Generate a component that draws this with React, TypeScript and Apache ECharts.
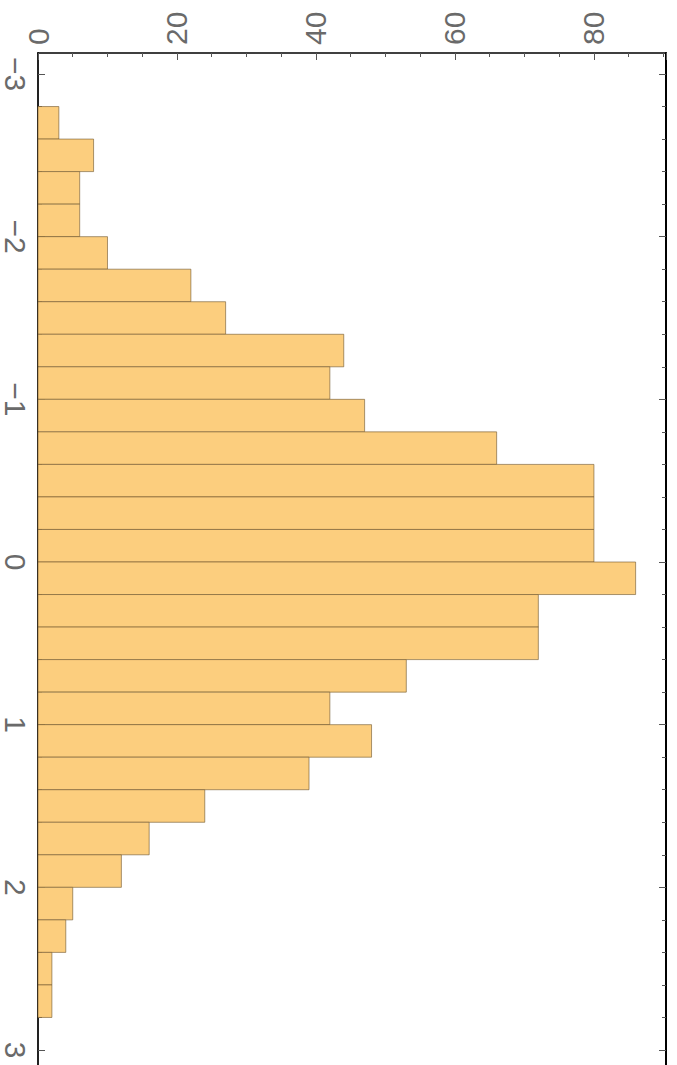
import React, { useEffect, useRef } from "react";
import * as echarts from "echarts";

// Histogram bins (lower edge, upper edge) and counts per bin
const binLower = [
  -2.8, -2.6, -2.4, -2.2, -2.0, -1.8, -1.6, -1.4, -1.2, -1.0, -0.8, -0.6, -0.4, -0.2,
  0.0, 0.2, 0.4, 0.6, 0.8, 1.0, 1.2, 1.4, 1.6, 1.8, 2.0, 2.2, 2.4, 2.6,
];
const binUpper = [
  -2.6, -2.4, -2.2, -2.0, -1.8, -1.6, -1.4, -1.2, -1.0, -0.8, -0.6, -0.4, -0.2, 0.0,
  0.2, 0.4, 0.6, 0.8, 1.0, 1.2, 1.4, 1.6, 1.8, 2.0, 2.2, 2.4, 2.6, 2.8,
];
const counts = [
  3, 8, 6, 6, 10, 22, 27, 44, 42, 47, 66, 80, 80, 80,
  86, 72, 72, 53, 42, 48, 39, 24, 16, 12, 5, 4, 2, 2,
];

// Axis ticks
const countTicks = [0, 20, 40, 60, 80];
const valueTicks = [-3, -2, -1, 0, 1, 2, 3];

const COUNT_MAX = 90.37;
const BAR_FILL = "#FCCE7E";
const BAR_EDGE = "rgba(110,85,45,0.6)";
const LABEL_COLOR = "#6a6a6a";
const TICK_COLOR = "#555";
const FONT = "'Liberation Sans', Arial, sans-serif";

const minus = (v: number) => String(v).replace("-", "\u2212");

export default function App() {
  const ref = useRef<HTMLDivElement>(null);

  useEffect(() => {
    if (!ref.current) return;
    const chart = echarts.init(ref.current, undefined, { renderer: "svg" });

    const data = counts.map((c, i) => [binLower[i], binUpper[i], c]);

    chart.setOption({
      animation: false,
      backgroundColor: "#ffffff",
      grid: [
        // frame grid
        { left: 38, top: 53, width: 628, height: 1018 },
        // data grid spanning -3 .. 3
        { left: 38, top: 74, width: 628, height: 976 },
      ],
      xAxis: [
        {
          gridIndex: 0,
          type: "value",
          position: "top",
          min: 0,
          max: COUNT_MAX,
          interval: 20,
          axisLine: { show: true, onZero: false, lineStyle: { color: "#000", width: 1.5 } },
          axisTick: { show: true, inside: true, length: 7, lineStyle: { color: TICK_COLOR, width: 1 } },
          minorTick: { show: true, splitNumber: 4, length: 4, lineStyle: { color: TICK_COLOR, width: 1 } },
          splitLine: { show: false },
          axisLabel: {
            show: true,
            rotate: -90,
            margin: 8,
            color: LABEL_COLOR,
            fontSize: 30,
            lineHeight: 30,
            fontFamily: FONT,
            showMaxLabel: false,
            formatter: (v: number) => (countTicks.includes(v) ? String(v) : ""),
          },
        },
        {
          gridIndex: 1,
          type: "value",
          min: 0,
          max: COUNT_MAX,
          show: false,
        },
      ],
      yAxis: [
        {
          gridIndex: 0,
          type: "value",
          position: "left",
          min: 0,
          max: 1,
          axisLine: { show: true, onZero: false, lineStyle: { color: "#222", width: 2 } },
          axisTick: { show: false },
          axisLabel: { show: false },
          splitLine: { show: false },
        },
        {
          gridIndex: 0,
          type: "value",
          position: "right",
          min: 0,
          max: 1,
          axisLine: { show: true, onZero: false, lineStyle: { color: "#000", width: 2 } },
          axisTick: { show: false },
          axisLabel: { show: false },
          splitLine: { show: false },
        },
        {
          gridIndex: 1,
          type: "value",
          position: "left",
          inverse: true,
          min: -3,
          max: 3,
          interval: 1,
          axisLine: { show: false, onZero: false },
          axisTick: { show: true, inside: true, length: 7, lineStyle: { color: TICK_COLOR, width: 1 } },
          minorTick: { show: true, splitNumber: 5, length: 4, lineStyle: { color: TICK_COLOR, width: 1 } },
          splitLine: { show: false },
          axisLabel: {
            show: true,
            rotate: -90,
            margin: 8,
            color: LABEL_COLOR,
            fontSize: 30,
            lineHeight: 30,
            fontFamily: FONT,
            formatter: (v: number) => (valueTicks.includes(v) ? minus(v) : ""),
          },
        },
        {
          gridIndex: 1,
          type: "value",
          position: "right",
          inverse: true,
          min: -3,
          max: 3,
          interval: 1,
          axisLine: { show: false, onZero: false },
          axisTick: { show: true, inside: true, length: 7, lineStyle: { color: TICK_COLOR, width: 1 } },
          minorTick: { show: true, splitNumber: 5, length: 4, lineStyle: { color: TICK_COLOR, width: 1 } },
          splitLine: { show: false },
          axisLabel: { show: false },
        },
      ],
      series: [
        {
          type: "custom",
          xAxisIndex: 1,
          yAxisIndex: 2,
          encode: { x: 2, y: [0, 1] },
          data,
          renderItem: (_params: any, api: any) => {
            const lo = api.value(0);
            const hi = api.value(1);
            const n = api.value(2);
            const p0 = api.coord([0, lo]);
            const p1 = api.coord([n, hi]);
            return {
              type: "rect",
              shape: {
                x: p0[0],
                y: p0[1],
                width: p1[0] - p0[0],
                height: p1[1] - p0[1],
              },
              style: { fill: BAR_FILL, stroke: BAR_EDGE, lineWidth: 1 },
            };
          },
        },
      ],
    });

    return () => chart.dispose();
  }, []);

  return (
    <div
      ref={ref}
      style={{ position: "fixed", left: 0, top: 0, width: 677, height: 1090 }}
    />
  );
}
